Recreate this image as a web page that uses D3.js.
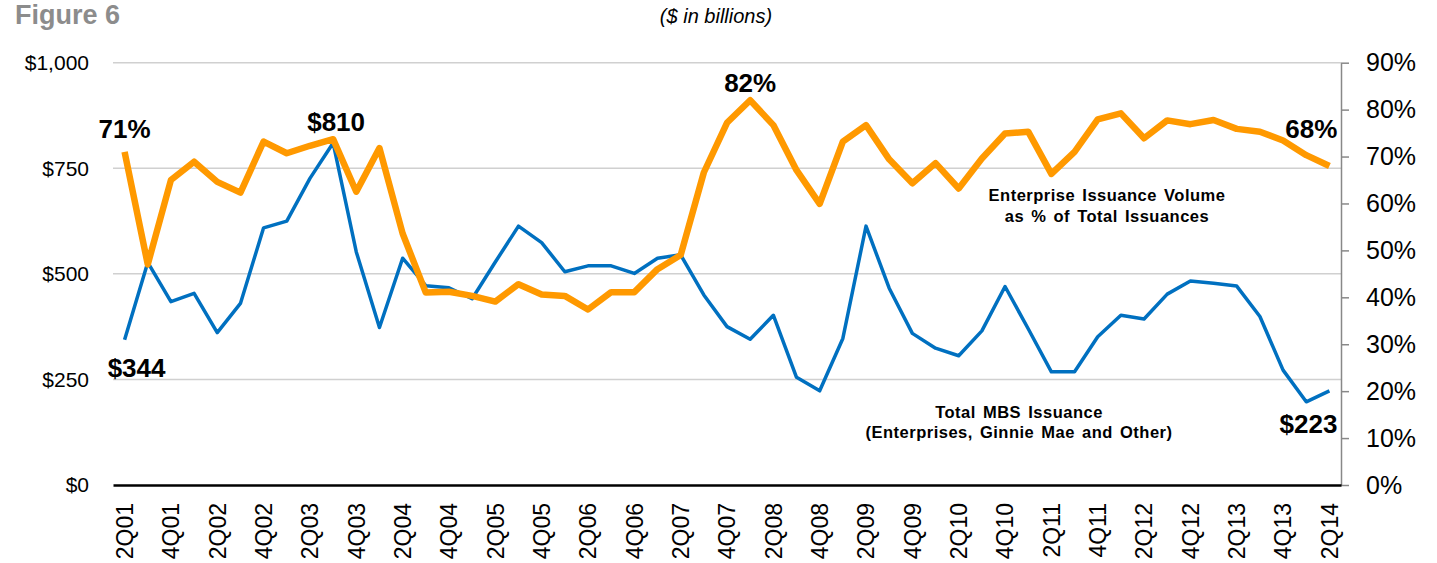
<!DOCTYPE html>
<html>
<head>
<meta charset="utf-8">
<script src="https://d3js.org/d3.v7.min.js"></script>
<style>
  body { margin: 0; background: #fff; }
  text { font-family: "Liberation Sans", Arial, sans-serif; }
</style>
</head>
<body>
<div id="chart"></div>
<script>
(function() {
var WIDTH = 1437;
var HEIGHT = 563;

var quarters = [
  '2Q01','3Q01','4Q01','1Q02','2Q02','3Q02','4Q02','1Q03','2Q03','3Q03','4Q03','1Q04',
  '2Q04','3Q04','4Q04','1Q05','2Q05','3Q05','4Q05','1Q06','2Q06','3Q06','4Q06','1Q07',
  '2Q07','3Q07','4Q07','1Q08','2Q08','3Q08','4Q08','1Q09','2Q09','3Q09','4Q09','1Q10',
  '2Q10','3Q10','4Q10','1Q11','2Q11','3Q11','4Q11','1Q12','2Q12','3Q12','4Q12','1Q13',
  '2Q13','3Q13','4Q13','1Q14','2Q14'
];

// total MBS issuance, $ billions
var totalIssuance = [
  344, 527, 434, 454, 361, 430, 609, 625, 726, 810, 552, 373,
  537, 472, 467, 441, 528, 613, 574, 505, 519, 519, 501, 537,
  545, 450, 375, 345, 402, 255, 223, 347, 613, 466, 359, 324,
  306, 365, 470, 370, 268, 268, 351, 402, 393, 452, 483, 478,
  471, 399, 272, 197, 223
];

// enterprise share of total issuance, %
var enterpriseShare = [
  71, 47, 65.0, 68.9, 64.6, 62.3, 73.2, 70.7, 72.3, 73.7, 62.5, 71.8,
  53.6, 41.0, 41.2, 40.3, 39.1, 42.8, 40.6, 40.3, 37.4, 41.1, 41.1, 46.0,
  49.0, 66.6, 77.2, 82, 76.7, 67.1, 59.9, 73.2, 76.7, 69.4, 64.3, 68.6,
  63.2, 69.6, 74.9, 75.3, 66.3, 71.0, 77.9, 79.2, 73.9, 77.7, 76.9, 77.8,
  75.9, 75.3, 73.4, 70.3, 68
];

var leftTicks = [0, 250, 500, 750, 1000];
var rightTicks = [0, 10, 20, 30, 40, 50, 60, 70, 80, 90];

var left = 113, right = 1341, top = 62.7, bottom = 485;

var svg = d3.select('#chart').append('svg')
  .attr('width', WIDTH)
  .attr('height', HEIGHT);

var x = d3.scaleBand().domain(quarters).range([left, right]).padding(0);
var yL = d3.scaleLinear().domain([0, 1000]).range([bottom, top]);
var yR = d3.scaleLinear().domain([0, 90]).range([bottom, top]);
var cx = function(q) { return x(q) + x.bandwidth() / 2; };

// gridlines
svg.append('g')
  .selectAll('line')
  .data(leftTicks.filter(function(d) { return d > 0; }))
  .enter().append('line')
  .attr('x1', left).attr('x2', right)
  .attr('y1', function(d) { return yL(d); })
  .attr('y2', function(d) { return yL(d); })
  .attr('stroke', '#d0d0d0')
  .attr('stroke-width', 1.5);

// left axis (labels only)
var leftAxis = svg.append('g')
  .attr('transform', 'translate(' + (left - 24) + ',0)')
  .call(d3.axisLeft(yL).tickValues(leftTicks).tickSize(0)
    .tickFormat(function(d) { return '$' + d3.format(',')(d); }));
leftAxis.select('.domain').remove();
leftAxis.selectAll('text')
  .attr('font-size', 21)
  .attr('fill', '#000')
  .attr('x', 0);

// right axis
var rightAxis = svg.append('g')
  .attr('transform', 'translate(' + right + ',0)')
  .call(d3.axisRight(yR).tickValues(rightTicks).tickSize(8).tickSizeOuter(0)
    .tickFormat(function(d) { return d + '%'; }));
rightAxis.select('.domain').attr('stroke', '#888').attr('stroke-width', 1.5);
rightAxis.selectAll('.tick line').attr('stroke', '#888').attr('stroke-width', 1.5);
rightAxis.selectAll('text')
  .attr('font-size', 25)
  .attr('fill', '#000')
  .attr('x', 25);

// x axis
var xAxis = svg.append('g')
  .attr('transform', 'translate(0,' + bottom + ')')
  .call(d3.axisBottom(x)
    .tickValues(quarters.filter(function(d, i) { return i % 2 === 0; }))
    .tickSize(0));
xAxis.select('.domain').attr('stroke', '#000').attr('stroke-width', 2.5);
xAxis.selectAll('text')
  .attr('font-size', 23)
  .attr('fill', '#000')
  .attr('text-anchor', 'end')
  .attr('transform', 'rotate(-90)')
  .attr('x', -18)
  .attr('y', 0)
  .attr('dy', '0.36em');

// lines
var blueLine = d3.line()
  .x(function(d, i) { return cx(quarters[i]); })
  .y(function(d) { return yL(d); });
var orangeLine = d3.line()
  .x(function(d, i) { return cx(quarters[i]); })
  .y(function(d) { return yR(d); });

svg.append('path')
  .datum(totalIssuance)
  .attr('d', blueLine)
  .attr('fill', 'none')
  .attr('stroke', '#0070c0')
  .attr('stroke-width', 3.5)
  .attr('stroke-linejoin', 'round');

svg.append('path')
  .datum(enterpriseShare)
  .attr('d', orangeLine)
  .attr('fill', 'none')
  .attr('stroke', '#ff9900')
  .attr('stroke-width', 6.5)
  .attr('stroke-linejoin', 'round');

// value labels
var n = quarters.length - 1;
var callouts = [
  { t: '71%', x: cx(quarters[0]), y: yR(enterpriseShare[0]) - 14, anchor: 'middle' },
  { t: '$810', x: cx(quarters[9]) + 3, y: yL(totalIssuance[9]) - 12, anchor: 'middle' },
  { t: '$344', x: cx(quarters[0]) + 12, y: yL(totalIssuance[0]) + 37, anchor: 'middle' },
  { t: '82%', x: cx(quarters[27]), y: yR(enterpriseShare[27]) - 8, anchor: 'middle' },
  { t: '68%', x: cx(quarters[n]) + 8, y: yR(enterpriseShare[n]) - 28, anchor: 'end' },
  { t: '$223', x: cx(quarters[n]) + 8, y: yL(totalIssuance[n]) + 42, anchor: 'end' }
];
svg.append('g')
  .selectAll('text')
  .data(callouts)
  .enter().append('text')
  .attr('x', function(d) { return d.x; })
  .attr('y', function(d) { return d.y; })
  .attr('text-anchor', function(d) { return d.anchor; })
  .attr('font-size', 26)
  .attr('font-weight', 'bold')
  .attr('fill', '#000')
  .text(function(d) { return d.t; });

// series notes
var notes = [
  { t: 'Enterprise Issuance Volume', x: 1107, y: 201 },
  { t: 'as % of Total Issuances', x: 1107, y: 222 },
  { t: 'Total MBS Issuance', x: 1019, y: 418 },
  { t: '(Enterprises,  Ginnie Mae and Other)', x: 1019, y: 438 }
];
svg.append('g')
  .selectAll('text')
  .data(notes)
  .enter().append('text')
  .attr('x', function(d) { return d.x; })
  .attr('y', function(d) { return d.y; })
  .attr('text-anchor', 'middle')
  .attr('font-size', 16.5)
  .attr('font-weight', 'bold')
  .attr('letter-spacing', 0.5)
  .attr('word-spacing', 2)
  .attr('fill', '#000')
  .text(function(d) { return d.t; });

// titles
svg.append('text')
  .attr('x', 15).attr('y', 24)
  .attr('font-size', 27)
  .attr('font-weight', 'bold')
  .attr('fill', '#8c8c8c')
  .text('Figure 6');

svg.append('text')
  .attr('x', 716).attr('y', 23)
  .attr('text-anchor', 'middle')
  .attr('font-size', 20)
  .attr('font-style', 'italic')
  .attr('fill', '#000')
  .text('($ in billions)');
})();
</script>
</body>
</html>
